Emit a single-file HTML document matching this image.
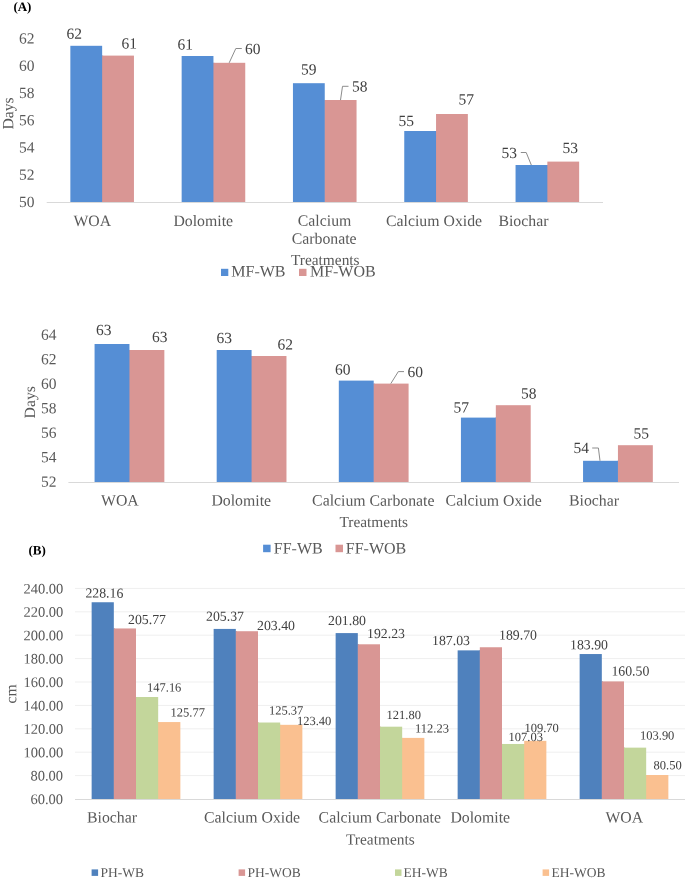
<!DOCTYPE html>
<html><head><meta charset="utf-8"><style>
html,body{margin:0;padding:0;background:#fff;width:685px;height:881px;overflow:hidden}
svg{display:block;will-change:transform}
text{font-family:"Liberation Serif", serif}
</style></head><body>
<svg width="685" height="881" viewBox="0 0 685 881">
<rect width="685" height="881" fill="#fff"/>
<rect x="46.70" y="202.00" width="556.30" height="1.00" fill="#D9D9D9"/>
<rect x="70.35" y="45.80" width="31.80" height="156.20" fill="#558ED5"/>
<rect x="101.55" y="55.60" width="1.60" height="146.40" fill="#558ED5"/>
<rect x="102.15" y="55.60" width="31.80" height="146.40" fill="#D99694"/>
<rect x="181.65" y="56.00" width="31.80" height="146.00" fill="#558ED5"/>
<rect x="212.85" y="62.80" width="1.60" height="139.20" fill="#558ED5"/>
<rect x="213.45" y="62.80" width="31.80" height="139.20" fill="#D99694"/>
<rect x="292.95" y="83.20" width="31.80" height="118.80" fill="#558ED5"/>
<rect x="324.15" y="100.00" width="1.60" height="102.00" fill="#558ED5"/>
<rect x="324.75" y="100.00" width="31.80" height="102.00" fill="#D99694"/>
<rect x="404.25" y="131.00" width="31.80" height="71.00" fill="#558ED5"/>
<rect x="435.45" y="131.00" width="1.60" height="71.00" fill="#558ED5"/>
<rect x="436.05" y="114.00" width="31.80" height="88.00" fill="#D99694"/>
<rect x="515.55" y="165.00" width="31.80" height="37.00" fill="#558ED5"/>
<rect x="546.75" y="165.00" width="1.60" height="37.00" fill="#558ED5"/>
<rect x="547.35" y="161.60" width="31.80" height="40.40" fill="#D99694"/>
<path d="M229.20 62.80 L235.80 48.50 L241.80 48.50" fill="none" stroke="#8C8C8C" stroke-width="1.0"/>
<path d="M340.50 100.10 L342.50 86.30 L348.50 86.30" fill="none" stroke="#8C8C8C" stroke-width="1.0"/>
<path d="M520.80 152.50 L526.20 152.50 L531.30 165.00" fill="none" stroke="#8C8C8C" stroke-width="1.0"/>
<rect x="221.00" y="268.80" width="7.30" height="7.20" fill="#558ED5"/>
<rect x="299.00" y="268.80" width="7.50" height="7.20" fill="#D99694"/>
<rect x="68.40" y="482.00" width="610.60" height="1.00" fill="#D9D9D9"/>
<rect x="94.57" y="344.00" width="34.89" height="138.00" fill="#558ED5"/>
<rect x="128.86" y="350.00" width="1.60" height="132.00" fill="#558ED5"/>
<rect x="129.46" y="350.00" width="34.89" height="132.00" fill="#D99694"/>
<rect x="216.69" y="350.00" width="34.89" height="132.00" fill="#558ED5"/>
<rect x="250.98" y="356.00" width="1.60" height="126.00" fill="#558ED5"/>
<rect x="251.58" y="356.00" width="34.89" height="126.00" fill="#D99694"/>
<rect x="338.81" y="380.60" width="34.89" height="101.40" fill="#558ED5"/>
<rect x="373.10" y="383.60" width="1.60" height="98.40" fill="#558ED5"/>
<rect x="373.70" y="383.60" width="34.89" height="98.40" fill="#D99694"/>
<rect x="460.93" y="417.60" width="34.89" height="64.40" fill="#558ED5"/>
<rect x="495.22" y="417.60" width="1.60" height="64.40" fill="#558ED5"/>
<rect x="495.82" y="405.20" width="34.89" height="76.80" fill="#D99694"/>
<rect x="583.05" y="460.80" width="34.89" height="21.20" fill="#558ED5"/>
<rect x="617.34" y="460.80" width="1.60" height="21.20" fill="#558ED5"/>
<rect x="617.94" y="445.20" width="34.89" height="36.80" fill="#D99694"/>
<path d="M390.80 383.60 L398.30 371.60 L404.00 371.60" fill="none" stroke="#8C8C8C" stroke-width="1.0"/>
<path d="M592.20 448.00 L598.40 448.00 L600.00 460.80" fill="none" stroke="#8C8C8C" stroke-width="1.0"/>
<rect x="263.10" y="544.70" width="7.50" height="7.50" fill="#558ED5"/>
<rect x="335.50" y="544.70" width="7.50" height="7.50" fill="#D99694"/>
<rect x="75.00" y="775.10" width="610.00" height="1.00" fill="#EFEFEF"/>
<rect x="75.00" y="751.70" width="610.00" height="1.00" fill="#EFEFEF"/>
<rect x="75.00" y="728.30" width="610.00" height="1.00" fill="#EFEFEF"/>
<rect x="75.00" y="704.90" width="610.00" height="1.00" fill="#EFEFEF"/>
<rect x="75.00" y="681.50" width="610.00" height="1.00" fill="#EFEFEF"/>
<rect x="75.00" y="658.10" width="610.00" height="1.00" fill="#EFEFEF"/>
<rect x="75.00" y="634.70" width="610.00" height="1.00" fill="#EFEFEF"/>
<rect x="75.00" y="611.30" width="610.00" height="1.00" fill="#EFEFEF"/>
<rect x="75.00" y="587.90" width="610.00" height="1.00" fill="#EFEFEF"/>
<rect x="75.00" y="799.00" width="610.00" height="1.00" fill="#D9D9D9"/>
<rect x="91.64" y="602.25" width="22.18" height="196.75" fill="#4F81BD"/>
<rect x="113.22" y="628.45" width="1.60" height="170.55" fill="#4F81BD"/>
<rect x="113.82" y="628.45" width="22.18" height="170.55" fill="#D99694"/>
<rect x="135.40" y="697.02" width="1.60" height="101.98" fill="#D99694"/>
<rect x="136.00" y="697.02" width="22.18" height="101.98" fill="#C3D69B"/>
<rect x="157.58" y="722.05" width="1.60" height="76.95" fill="#C3D69B"/>
<rect x="158.18" y="722.05" width="22.18" height="76.95" fill="#FAC090"/>
<rect x="213.64" y="628.92" width="22.18" height="170.08" fill="#4F81BD"/>
<rect x="235.22" y="631.22" width="1.60" height="167.78" fill="#4F81BD"/>
<rect x="235.82" y="631.22" width="22.18" height="167.78" fill="#D99694"/>
<rect x="257.40" y="722.52" width="1.60" height="76.48" fill="#D99694"/>
<rect x="258.00" y="722.52" width="22.18" height="76.48" fill="#C3D69B"/>
<rect x="279.58" y="724.82" width="1.60" height="74.18" fill="#C3D69B"/>
<rect x="280.18" y="724.82" width="22.18" height="74.18" fill="#FAC090"/>
<rect x="335.64" y="633.09" width="22.18" height="165.91" fill="#4F81BD"/>
<rect x="357.22" y="644.29" width="1.60" height="154.71" fill="#4F81BD"/>
<rect x="357.82" y="644.29" width="22.18" height="154.71" fill="#D99694"/>
<rect x="379.40" y="726.69" width="1.60" height="72.31" fill="#D99694"/>
<rect x="380.00" y="726.69" width="22.18" height="72.31" fill="#C3D69B"/>
<rect x="401.58" y="737.89" width="1.60" height="61.11" fill="#C3D69B"/>
<rect x="402.18" y="737.89" width="22.18" height="61.11" fill="#FAC090"/>
<rect x="457.64" y="650.37" width="22.18" height="148.63" fill="#4F81BD"/>
<rect x="479.22" y="650.37" width="1.60" height="148.63" fill="#4F81BD"/>
<rect x="479.82" y="647.25" width="22.18" height="151.75" fill="#D99694"/>
<rect x="501.40" y="743.97" width="1.60" height="55.03" fill="#D99694"/>
<rect x="502.00" y="743.97" width="22.18" height="55.03" fill="#C3D69B"/>
<rect x="523.58" y="743.97" width="1.60" height="55.03" fill="#C3D69B"/>
<rect x="524.18" y="740.85" width="22.18" height="58.15" fill="#FAC090"/>
<rect x="579.64" y="654.04" width="22.18" height="144.96" fill="#4F81BD"/>
<rect x="601.22" y="681.41" width="1.60" height="117.59" fill="#4F81BD"/>
<rect x="601.82" y="681.41" width="22.18" height="117.59" fill="#D99694"/>
<rect x="623.40" y="747.64" width="1.60" height="51.36" fill="#D99694"/>
<rect x="624.00" y="747.64" width="22.18" height="51.36" fill="#C3D69B"/>
<rect x="645.58" y="775.01" width="1.60" height="23.99" fill="#C3D69B"/>
<rect x="646.18" y="775.01" width="22.18" height="23.99" fill="#FAC090"/>
<rect x="91.60" y="869.40" width="6.50" height="6.50" fill="#4F81BD"/>
<rect x="238.60" y="869.40" width="6.50" height="6.50" fill="#D99694"/>
<rect x="395.00" y="869.40" width="6.50" height="6.50" fill="#C3D69B"/>
<rect x="542.60" y="869.40" width="6.50" height="6.50" fill="#FAC090"/>
<text transform="translate(18.90,207.00) rotate(0.05)" font-size="15.5" fill="#595959">50</text>
<text transform="translate(18.90,179.75) rotate(0.05)" font-size="15.5" fill="#595959">52</text>
<text transform="translate(18.90,152.50) rotate(0.05)" font-size="15.5" fill="#595959">54</text>
<text transform="translate(18.90,125.25) rotate(0.05)" font-size="15.5" fill="#595959">56</text>
<text transform="translate(18.90,98.00) rotate(0.05)" font-size="15.5" fill="#595959">58</text>
<text transform="translate(18.90,70.75) rotate(0.05)" font-size="15.5" fill="#595959">60</text>
<text transform="translate(18.90,43.50) rotate(0.05)" font-size="15.5" fill="#595959">62</text>
<text transform="translate(66.50,38.80) rotate(0.05)" font-size="15.5" fill="#404040">62</text>
<text transform="translate(121.60,48.60) rotate(0.05)" font-size="15.5" fill="#404040">61</text>
<text transform="translate(177.60,49.60) rotate(0.05)" font-size="15.5" fill="#404040">61</text>
<text transform="translate(245.00,54.00) rotate(0.05)" font-size="15.5" fill="#404040">60</text>
<text transform="translate(301.00,74.60) rotate(0.05)" font-size="15.5" fill="#404040">59</text>
<text transform="translate(352.00,91.40) rotate(0.05)" font-size="15.5" fill="#404040">58</text>
<text transform="translate(398.60,126.00) rotate(0.05)" font-size="15.5" fill="#404040">55</text>
<text transform="translate(458.60,104.40) rotate(0.05)" font-size="15.5" fill="#404040">57</text>
<text transform="translate(501.60,158.00) rotate(0.05)" font-size="15.5" fill="#404040">53</text>
<text transform="translate(562.60,153.00) rotate(0.05)" font-size="15.5" fill="#404040">53</text>
<text transform="translate(73.40,226.00) rotate(0.05)" font-size="15.8" fill="#595959">WOA</text>
<text transform="translate(173.40,226.00) rotate(0.05)" font-size="15.8" fill="#595959">Dolomite</text>
<text transform="translate(297.80,225.70) rotate(0.05)" font-size="15.8" fill="#595959">Calcium</text>
<text transform="translate(291.70,243.80) rotate(0.05)" font-size="15.8" fill="#595959">Carbonate</text>
<text transform="translate(386.00,226.00) rotate(0.05)" font-size="15.8" fill="#595959">Calcium Oxide</text>
<text transform="translate(498.40,226.00) rotate(0.05)" font-size="15.8" fill="#595959">Biochar</text>
<text transform="translate(290.90,265.00) rotate(0.05)" font-size="15.4" fill="#595959">Treatments</text>
<text transform="translate(231.30,276.50) rotate(0.05)" font-size="16" fill="#595959">MF-WB</text>
<text transform="translate(309.90,276.50) rotate(0.05)" font-size="16" fill="#595959">MF-WOB</text>
<text transform="translate(13.40,10.90) rotate(0.05)" font-size="13" fill="#000" font-weight="bold">(A)</text>
<text transform="translate(41.00,486.80) rotate(0.05)" font-size="15.5" fill="#595959">52</text>
<text transform="translate(41.00,462.30) rotate(0.05)" font-size="15.5" fill="#595959">54</text>
<text transform="translate(41.00,437.80) rotate(0.05)" font-size="15.5" fill="#595959">56</text>
<text transform="translate(41.00,413.30) rotate(0.05)" font-size="15.5" fill="#595959">58</text>
<text transform="translate(41.00,388.80) rotate(0.05)" font-size="15.5" fill="#595959">60</text>
<text transform="translate(41.00,364.30) rotate(0.05)" font-size="15.5" fill="#595959">62</text>
<text transform="translate(41.00,339.80) rotate(0.05)" font-size="15.5" fill="#595959">64</text>
<text transform="translate(96.00,335.00) rotate(0.05)" font-size="15.5" fill="#404040">63</text>
<text transform="translate(152.00,342.00) rotate(0.05)" font-size="15.5" fill="#404040">63</text>
<text transform="translate(216.40,343.00) rotate(0.05)" font-size="15.5" fill="#404040">63</text>
<text transform="translate(277.40,349.60) rotate(0.05)" font-size="15.5" fill="#404040">62</text>
<text transform="translate(335.00,374.40) rotate(0.05)" font-size="15.5" fill="#404040">60</text>
<text transform="translate(407.60,377.00) rotate(0.05)" font-size="15.5" fill="#404040">60</text>
<text transform="translate(453.40,412.60) rotate(0.05)" font-size="15.5" fill="#404040">57</text>
<text transform="translate(521.00,398.60) rotate(0.05)" font-size="15.5" fill="#404040">58</text>
<text transform="translate(573.60,453.00) rotate(0.05)" font-size="15.5" fill="#404040">54</text>
<text transform="translate(633.40,438.40) rotate(0.05)" font-size="15.5" fill="#404040">55</text>
<text transform="translate(101.00,505.60) rotate(0.05)" font-size="15.8" fill="#595959">WOA</text>
<text transform="translate(211.40,505.60) rotate(0.05)" font-size="15.8" fill="#595959">Dolomite</text>
<text transform="translate(312.10,505.60) rotate(0.05)" font-size="15.8" fill="#595959">Calcium Carbonate</text>
<text transform="translate(445.60,505.60) rotate(0.05)" font-size="15.8" fill="#595959">Calcium Oxide</text>
<text transform="translate(569.00,505.60) rotate(0.05)" font-size="15.8" fill="#595959">Biochar</text>
<text transform="translate(339.40,527.00) rotate(0.05)" font-size="15.4" fill="#595959">Treatments</text>
<text transform="translate(273.80,553.40) rotate(0.05)" font-size="16" fill="#595959">FF-WB</text>
<text transform="translate(345.80,553.40) rotate(0.05)" font-size="16" fill="#595959">FF-WOB</text>
<text transform="translate(28.40,554.60) rotate(0.05)" font-size="13" fill="#000" font-weight="bold">(B)</text>
<text transform="translate(30.40,804.00) rotate(0.05)" font-size="14.5" fill="#595959">60.00</text>
<text transform="translate(30.40,780.60) rotate(0.05)" font-size="14.5" fill="#595959">80.00</text>
<text transform="translate(23.40,757.20) rotate(0.05)" font-size="14.5" fill="#595959">100.00</text>
<text transform="translate(23.40,733.80) rotate(0.05)" font-size="14.5" fill="#595959">120.00</text>
<text transform="translate(23.40,710.40) rotate(0.05)" font-size="14.5" fill="#595959">140.00</text>
<text transform="translate(23.40,687.00) rotate(0.05)" font-size="14.5" fill="#595959">160.00</text>
<text transform="translate(23.40,663.60) rotate(0.05)" font-size="14.5" fill="#595959">180.00</text>
<text transform="translate(23.40,640.20) rotate(0.05)" font-size="14.5" fill="#595959">200.00</text>
<text transform="translate(23.40,616.80) rotate(0.05)" font-size="14.5" fill="#595959">220.00</text>
<text transform="translate(23.40,593.40) rotate(0.05)" font-size="14.5" fill="#595959">240.00</text>
<text transform="translate(85.40,597.60) rotate(0.05)" font-size="13.8" fill="#404040">228.16</text>
<text transform="translate(128.00,624.00) rotate(0.05)" font-size="13.8" fill="#404040">205.77</text>
<text transform="translate(147.00,691.40) rotate(0.05)" font-size="12.5" fill="#404040">147.16</text>
<text transform="translate(170.60,716.40) rotate(0.05)" font-size="12.5" fill="#404040">125.77</text>
<text transform="translate(206.00,620.80) rotate(0.05)" font-size="13.8" fill="#404040">205.37</text>
<text transform="translate(257.00,630.00) rotate(0.05)" font-size="13.8" fill="#404040">203.40</text>
<text transform="translate(269.00,714.60) rotate(0.05)" font-size="12.5" fill="#404040">125.37</text>
<text transform="translate(297.00,725.00) rotate(0.05)" font-size="12.5" fill="#404040">123.40</text>
<text transform="translate(328.00,625.00) rotate(0.05)" font-size="13.8" fill="#404040">201.80</text>
<text transform="translate(367.00,638.00) rotate(0.05)" font-size="13.8" fill="#404040">192.23</text>
<text transform="translate(386.60,719.00) rotate(0.05)" font-size="12.5" fill="#404040">121.80</text>
<text transform="translate(415.00,732.40) rotate(0.05)" font-size="12.5" fill="#404040">112.23</text>
<text transform="translate(432.00,645.00) rotate(0.05)" font-size="13.8" fill="#404040">187.03</text>
<text transform="translate(499.00,639.40) rotate(0.05)" font-size="13.8" fill="#404040">189.70</text>
<text transform="translate(508.60,741.00) rotate(0.05)" font-size="12.5" fill="#404040">107.03</text>
<text transform="translate(524.50,732.00) rotate(0.05)" font-size="12.5" fill="#404040">109.70</text>
<text transform="translate(570.00,649.20) rotate(0.05)" font-size="13.8" fill="#404040">183.90</text>
<text transform="translate(611.40,675.40) rotate(0.05)" font-size="13.8" fill="#404040">160.50</text>
<text transform="translate(640.00,739.60) rotate(0.05)" font-size="12.5" fill="#404040">103.90</text>
<text transform="translate(653.60,769.20) rotate(0.05)" font-size="12.5" fill="#404040">80.50</text>
<text transform="translate(87.00,822.40) rotate(0.05)" font-size="15.8" fill="#595959">Biochar</text>
<text transform="translate(204.00,822.40) rotate(0.05)" font-size="15.8" fill="#595959">Calcium Oxide</text>
<text transform="translate(318.60,822.40) rotate(0.05)" font-size="15.8" fill="#595959">Calcium Carbonate</text>
<text transform="translate(450.40,822.40) rotate(0.05)" font-size="15.8" fill="#595959">Dolomite</text>
<text transform="translate(605.40,822.40) rotate(0.05)" font-size="15.8" fill="#595959">WOA</text>
<text transform="translate(346.00,844.40) rotate(0.05)" font-size="15.4" fill="#595959">Treatments</text>
<text transform="translate(100.40,877.00) rotate(0.05)" font-size="13.5" fill="#595959">PH-WB</text>
<text transform="translate(247.60,877.00) rotate(0.05)" font-size="13.5" fill="#595959">PH-WOB</text>
<text transform="translate(403.40,877.00) rotate(0.05)" font-size="13.5" fill="#595959">EH-WB</text>
<text transform="translate(551.40,877.00) rotate(0.05)" font-size="13.5" fill="#595959">EH-WOB</text>
<text transform="translate(13.3,129.6) rotate(-89.95)" font-size="15.7" fill="#595959">Days</text>
<text transform="translate(35.0,418.4) rotate(-89.95)" font-size="15.7" fill="#595959">Days</text>
<text transform="translate(16.3,703.4) rotate(-89.95)" font-size="15.7" fill="#595959">cm</text>
</svg>
</body></html>
